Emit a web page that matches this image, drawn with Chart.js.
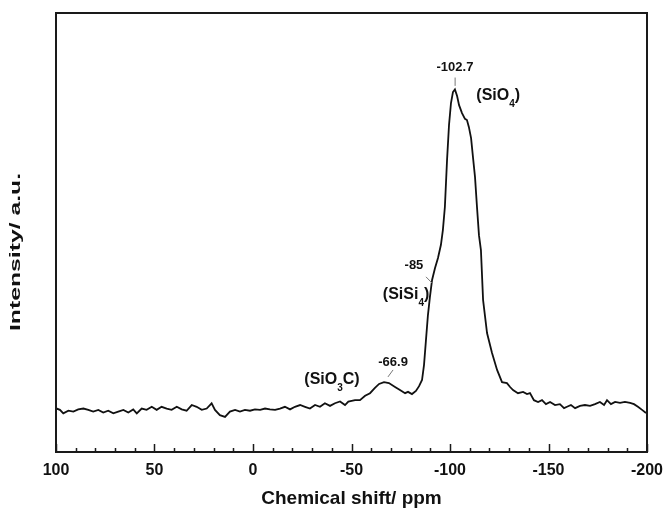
<!DOCTYPE html>
<html>
<head>
<meta charset="utf-8">
<script src="https://cdn.jsdelivr.net/npm/chart.js@4/dist/chart.umd.min.js"></script>
<style>
html,body{margin:0;padding:0;background:#fff;}
#wrap{width:665px;height:510px;position:relative;}
</style>
</head>
<body>
<div id="wrap"><canvas id="c" width="665" height="510"></canvas></div>
<script>
// Chemical shift (ppm) of each sampled point
const shiftPpm = [100, 99.7, 98.0, 96.3, 93.7, 91.2, 88.7, 86.1, 83.6, 81.1, 78.5, 76.0, 73.5, 70.9, 68.4, 65.8, 63.3, 60.8, 59.0, 56.5, 54.0, 51.4, 48.9, 46.4, 43.8, 41.3, 38.7, 36.2, 33.7, 31.1, 28.6, 26.0, 23.5, 21.0, 19.3, 16.8, 14.2, 11.7, 9.1, 6.6, 4.1, 1.5, -1.0, -3.6, -6.1, -8.6, -11.2, -13.7, -16.2, -18.8, -21.3, -23.9, -26.4, -28.9, -31.5, -34.0, -36.5, -39.1, -41.6, -44.2, -46.7, -48.4, -51.8, -54.3, -56.9, -59.4, -61.9, -64.0, -66.5, -69.0, -72.1, -74.6, -77.2, -78.7, -80.7, -82.7, -84.3, -85.8, -86.8, -87.8, -88.8, -89.8, -90.9, -92.4, -93.9, -95.4, -96.4, -97.4, -98.5, -99.5, -100.5, -101.5, -102.5, -103.6, -104.6, -106.1, -107.6, -108.6, -109.6, -110.7, -111.7, -112.7, -113.7, -114.7, -115.7, -116.8, -118.8, -121.3, -123.9, -126.4, -128.9, -130.5, -132.0, -134.5, -137.1, -139.1, -140.6, -142.6, -144.7, -146.7, -148.7, -150.8, -153.3, -155.8, -157.9, -159.4, -161.4, -163.5, -166.0, -168.5, -171.1, -173.6, -176.1, -178.2, -179.7, -181.7, -183.8, -186.3, -188.8, -191.4, -193.4, -195.4, -197.5, -199.5];
// Intensity (a.u.) at each shift
const intensity = [9.8, 9.9, 9.6, 8.8, 9.4, 9.2, 9.7, 9.9, 9.6, 9.2, 9.6, 9.0, 9.4, 8.8, 9.2, 9.6, 9.0, 9.7, 8.8, 9.9, 9.6, 10.3, 9.6, 10.3, 9.9, 9.6, 10.3, 9.7, 9.4, 10.7, 10.3, 9.6, 9.9, 11.1, 9.6, 8.4, 8.0, 9.2, 9.6, 9.2, 9.6, 9.4, 9.7, 9.6, 9.9, 9.7, 9.6, 9.9, 10.3, 9.7, 10.3, 10.7, 10.3, 9.9, 10.7, 10.3, 11.1, 10.5, 11.1, 11.5, 10.7, 11.5, 11.8, 11.8, 12.8, 13.4, 14.6, 15.5, 15.9, 15.7, 14.8, 14.1, 13.4, 13.7, 13.2, 13.9, 15.0, 16.4, 19.8, 25.5, 31.2, 35.3, 39.2, 41.9, 44.2, 47.2, 50.6, 55.8, 66.5, 74.5, 79.5, 82.0, 82.6, 81.1, 79.0, 77.2, 75.9, 75.6, 74.0, 71.5, 67.0, 62.6, 55.8, 49.4, 46.0, 34.6, 27.1, 22.6, 18.7, 15.9, 15.7, 14.8, 14.1, 13.4, 13.7, 13.2, 13.4, 11.8, 11.4, 11.8, 10.9, 11.4, 10.7, 10.9, 10.0, 10.3, 10.7, 10.0, 10.5, 10.7, 10.5, 10.9, 11.4, 10.7, 11.8, 10.9, 11.4, 11.2, 11.4, 11.2, 10.9, 10.3, 9.6, 8.9];

// Axis tick values
const majorTicks = [100, 50, 0, -50, -100, -150, -200];
const minorTicks = [90, 80, 70, 60, 40, 30, 20, 10, -10, -20, -30, -40, -60, -70, -80, -90, -110, -120, -130, -140, -160, -170, -180, -190];

// Axis titles
const xTitle = 'Chemical shift/ ppm';
const yTitle = 'Intensity/ a.u.';

// Peak labels: text, label anchor (ppm, intensity), leader start & end (ppm, intensity)
const peakText = ['-102.7', '-85', '-66.9'];
const peakTextPpm = [-102.5, -81.7, -71.1];
const peakTextInt = [87.7, 42.6, 20.5];
const leaderFromPpm = [-102.6, -87.8, -71.1];
const leaderFromInt = [85.3, 39.9, 18.7];
const leaderToPpm = [-102.6, -90.9, -68.5];
const leaderToInt = [83.4, 38.5, 17.1];

// Species labels: [main, subscript, tail], anchored at (ppm, intensity) centre
const speciesParts = [['(SiO', '4', ')'], ['(SiSi', '4', ')'], ['(SiO', '3', 'C)']];
const speciesPpm = [-124.5, -77.7, -40.1];
const speciesInt = [81.1, 35.8, 16.4];

const FONT = "'Liberation Sans', Arial, sans-serif";

const points = shiftPpm.map((x, i) => ({x: x, y: intensity[i]}));

const decor = {
  id: 'decor',
  afterDatasetsDraw(chart) {
    const ctx = chart.ctx;
    const a = chart.chartArea;
    const xs = chart.scales.x, ys = chart.scales.y;
    ctx.save();
    // frame
    ctx.strokeStyle = '#1a1a1a';
    ctx.lineWidth = 2;
    ctx.strokeRect(a.left, a.top, a.right - a.left, a.bottom - a.top);
    // inward ticks
    ctx.lineWidth = 1.5;
    ctx.beginPath();
    majorTicks.forEach(v => {
      const px = Math.round(xs.getPixelForValue(v)) + 0.5;
      ctx.moveTo(px, a.bottom); ctx.lineTo(px, a.bottom - 8);
    });
    minorTicks.forEach(v => {
      const px = Math.round(xs.getPixelForValue(v)) + 0.5;
      ctx.moveTo(px, a.bottom); ctx.lineTo(px, a.bottom - 4);
    });
    ctx.stroke();
    // peak labels
    ctx.fillStyle = '#111';
    ctx.textAlign = 'center';
    ctx.textBaseline = 'middle';
    ctx.font = 'bold 13px ' + FONT;
    peakText.forEach((t, i) => {
      ctx.fillText(t, xs.getPixelForValue(peakTextPpm[i]), ys.getPixelForValue(peakTextInt[i]));
    });
    ctx.strokeStyle = '#777';
    ctx.lineWidth = 1;
    ctx.beginPath();
    peakText.forEach((t, i) => {
      ctx.moveTo(xs.getPixelForValue(leaderFromPpm[i]), ys.getPixelForValue(leaderFromInt[i]));
      ctx.lineTo(xs.getPixelForValue(leaderToPpm[i]), ys.getPixelForValue(leaderToInt[i]));
    });
    ctx.stroke();
    // species labels with subscript
    speciesParts.forEach((parts, i) => {
      const big = 'bold 16px ' + FONT, small = 'bold 10px ' + FONT;
      ctx.font = big; const w1 = ctx.measureText(parts[0]).width; const w3 = ctx.measureText(parts[2]).width;
      ctx.font = small; const w2 = ctx.measureText(parts[1]).width;
      const total = w1 + w2 + w3;
      const cx = xs.getPixelForValue(speciesPpm[i]);
      const cy = ys.getPixelForValue(speciesInt[i]);
      let x0 = cx - total / 2;
      ctx.textAlign = 'left';
      ctx.font = big; ctx.fillText(parts[0], x0, cy);
      ctx.font = small; ctx.fillText(parts[1], x0 + w1, cy + 8);
      ctx.font = big; ctx.fillText(parts[2], x0 + w1 + w2, cy);
    });
    // y-axis title (stretched along its length like the reference)
    ctx.font = 'bold 15px ' + FONT;
    const tw = ctx.measureText(yTitle).width;
    ctx.translate(16, 252);
    ctx.rotate(-Math.PI / 2);
    ctx.scale(158 / tw, 1);
    ctx.textAlign = 'center';
    ctx.fillText(yTitle, 0, 0);
    ctx.restore();
  }
};

new Chart(document.getElementById('c'), {
  type: 'line',
  data: {
    datasets: [{
      data: points,
      borderColor: '#111',
      borderWidth: 1.8,
      pointRadius: 0,
      tension: 0,
      fill: false
    }]
  },
  options: {
    responsive: false,
    animation: false,
    layout: {padding: {top: 13, right: 18, left: 0, bottom: 0}},
    plugins: {legend: {display: false}, tooltip: {enabled: false}},
    scales: {
      x: {
        type: 'linear',
        reverse: true,
        min: -200, max: 100,
        afterFit(s) { s.height = 58; s.paddingRight = 0; s.paddingLeft = 0; },
        grid: {display: false, drawTicks: false},
        border: {display: false},
        ticks: {
          stepSize: 50,
          padding: 9,
          color: '#111',
          font: {family: FONT, size: 16, weight: 'bold'},
          maxRotation: 0,
          autoSkip: false
        },
        title: {
          display: true,
          text: xTitle,
          color: '#111',
          font: {family: FONT, size: 19, weight: 'bold'},
          padding: {top: 0, bottom: 0}
        }
      },
      y: {
        min: 0, max: 100,
        afterFit(s) { s.width = 56; },
        grid: {display: false, drawTicks: false},
        border: {display: false},
        ticks: {display: false},
        title: {display: false}
      }
    }
  },
  plugins: [decor]
});
</script>
</body>
</html>
